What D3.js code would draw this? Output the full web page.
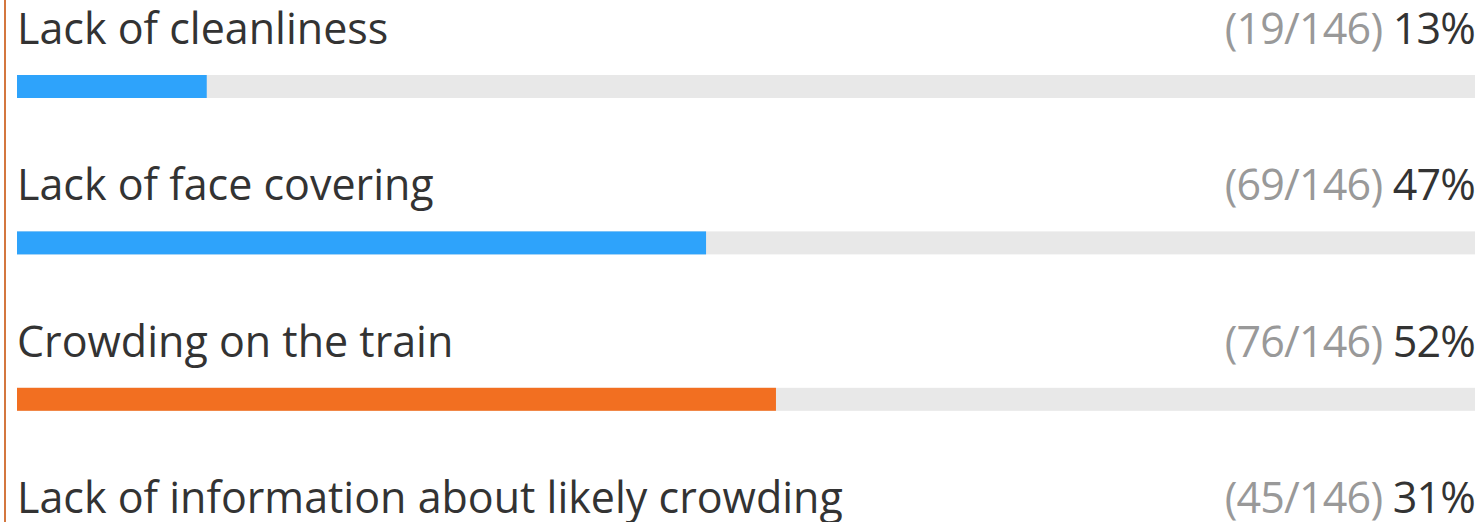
<!DOCTYPE html>
<html>
<head>
<meta charset="utf-8">
<script src="https://cdn.jsdelivr.net/npm/d3@7"></script>
<style>
  html, body { margin: 0; padding: 0; background: #fff; overflow: hidden; }
  svg { display: block; }
</style>
</head>
<body>
<div id="root"></div>
<script>
const labels = [
  "Lack of cleanliness",
  "Lack of face covering",
  "Crowding on the train",
  "Lack of information about likely crowding",
];
const counts = [19, 69, 76, 45];
const total = 146;

const width = 1483;
const height = 522;
const left = 17;
const right = 1475;
const rowStep = 156.4;

const svg = d3
  .select("#root")
  .append("svg")
  .attr("width", width)
  .attr("height", height);

// left accent line
svg
  .append("line")
  .attr("x1", 5)
  .attr("x2", 5)
  .attr("y1", 0)
  .attr("y2", height)
  .attr("stroke", "#d4773f")
  .attr("stroke-width", 2);

const x = d3.scaleLinear().domain([0, total]).range([0, right - left]);
const y = d3.scaleLinear().domain([0, 1]).range([0, rowStep]);

const maxCount = d3.max(counts);
const rows = labels.map((label, i) => ({ label, count: counts[i] }));

const row = svg
  .append("g")
  .selectAll("g")
  .data(rows)
  .join("g")
  .attr("transform", (d, i) => `translate(${left}, ${y(i)})`);

row
  .append("text")
  .attr("x", 0)
  .attr("y", 44)
  .attr("fill", "#333")
  .style("font-family", "'Open Sans', sans-serif")
  .style("font-size", "43px")
  .text((d) => d.label);

const value = row
  .append("text")
  .attr("x", right - left)
  .attr("y", 44)
  .attr("text-anchor", "end")
  .style("font-family", "'Open Sans', sans-serif")
  .style("font-size", "43px")
  .style("letter-spacing", "-0.8px");

value
  .append("tspan")
  .attr("fill", "#999")
  .text((d) => `(${d.count}/${total}) `);

value
  .append("tspan")
  .attr("fill", "#333")
  .text((d) => `${Math.round((d.count / total) * 100)}%`);

// track
row
  .append("rect")
  .attr("x", 0)
  .attr("y", 75)
  .attr("width", x(total))
  .attr("height", 23)
  .attr("fill", "#e8e8e8");

// bar
row
  .append("rect")
  .attr("x", 0)
  .attr("y", 75)
  .attr("width", (d) => x(d.count))
  .attr("height", 23)
  .attr("fill", (d) => (d.count === maxCount ? "#f26f21" : "#2ea3fb"));
</script>
</body>
</html>
